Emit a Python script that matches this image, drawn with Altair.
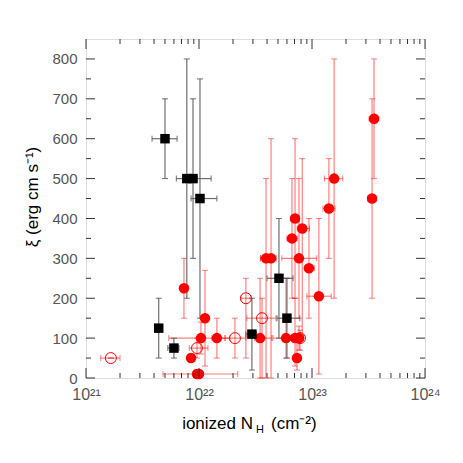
import altair as alt
import pandas as pd

# ---- data ----
# black squares
sq_x   = [5.0e21, 7.8e21, 8.85e21, 1.02e22, 4.4e21, 6.0e21, 2.94e22, 5.1e22, 6.0e22]
sq_xlo = [3.84e21, 6.3e21, 7.5e21, 8.5e21, 4.16e21, 5.3e21, 2.6e22, 4.0e22, 4.9e22]
sq_xhi = [6.4e21, 9.6e21, 1.28e22, 1.44e22, 4.7e21, 6.65e21, 3.2e22, 6.8e22, 7.8e22]
sq_y   = [600, 500, 500, 450, 125, 75, 110, 250, 150]
sq_ylo = [500, 200, 300, 150, 50, 50, 20, 100, 50]
sq_yhi = [700, 800, 700, 750, 200, 100, 200, 400, 250]

# red filled circles
fc_x   = [3.54e23, 3.4e23, 1.57e23, 1.41e23, 1.15e23, 9.4e22, 7.67e22, 7.08e22, 8.2e22, 6.65e22,
          3.92e22, 4.34e22, 1.13e22, 1.04e22, 1.44e22, 3.47e22, 5.89e22, 7.08e22, 7.67e22, 7.36e22,
          8.5e21, 9.6e21, 1.0e22, 7.36e21]
fc_xlo = [3.2e23, 3.1e23, 1.29e23, 1.25e23, 9.0e22, 8.6e22, 5.4e22, 6.5e22, 7.4e22, 6.0e22,
          3.5e22, 3.5e22, 1.05e22, 5.4e21, 1.3e22, 3.1e22, 4.5e22, 6.5e22, 7.0e22, 6.9e22,
          8.0e21, 9.0e21, 4.8e21, 6.8e21]
fc_xhi = [3.9e23, 3.7e23, 1.87e23, 1.6e23, 1.48e23, 1.05e23, 1.1e23, 7.7e22, 9.5e22, 7.4e22,
          4.8e22, 4.8e22, 1.2e22, 1.88e22, 1.7e22, 4.4e22, 6.5e22, 7.7e22, 8.4e22, 7.9e22,
          9.0e21, 1.02e22, 2.2e22, 8.0e21]
fc_y   = [650, 450, 500, 425, 205, 275, 300, 400, 375, 350,
          300, 300, 150, 100, 100, 100, 100, 100, 100, 50,
          50, 10, 10, 225]
fc_ylo = [500, 200, 200, 300, 10, 150, 150, 200, 100, 200,
          0, 0, 30, 60, 50, 0, 50, 30, 70, 20,
          40, 0, 0, 150]
fc_yhi = [800, 700, 800, 550, 400, 400, 500, 600, 550, 500,
          500, 600, 270, 140, 150, 250, 250, 200, 130, 100,
          60, 20, 20, 300]

# red open circles
oc_x   = [1.66e21, 9.6e21, 2.08e22, 2.6e22, 3.61e22, 7.83e22]
oc_xlo = [1.35e21, 8.2e21, 1.7e22, 2.35e22, 2.65e22, 7.3e22]
oc_xhi = [2.0e21, 1.2e22, 2.6e22, 2.9e22, 4.8e22, 8.4e22]
oc_y   = [50, 75, 100, 200, 150, 100]
oc_ylo = [50, 50, 50, 50, 0, 70]
oc_yhi = [50, 100, 150, 250, 200, 120]

x_major = [1e21, 1e22, 1e23, 1e24]
x_minor = [m * 10.0 ** d for d in (21, 22, 23) for m in range(2, 10)]
y_major = [0, 100, 200, 300, 400, 500, 600, 700, 800]
y_minor = [50, 150, 250, 350, 450, 550, 650, 750]

W, H = 339, 339
FONT = "Liberation Sans"

xs = alt.Scale(type="log", domain=[1e21, 1e24], nice=False)
ys = alt.Scale(domain=[0, 850], nice=False, zero=False)

xaxis = alt.Axis(values=x_major, labelExpr="'10' + (datum.value < 5e21 ? '²¹' : datum.value < 5e22 ? '²²' : datum.value < 5e23 ? '²³' : '²⁴')",
                 ticks=False, domain=False, grid=False, title="", labelFlush=False,
                 labelFontSize=16, labelColor="#555", labelFont=FONT, labelPadding=8)
yaxis = alt.Axis(values=y_major, ticks=False, domain=False, grid=False, title="",
                 labelFontSize=15, labelColor="#555", labelFont=FONT, labelPadding=9)


def X(f):
    return alt.X(f + ":Q", scale=xs, axis=xaxis)


def Y(f):
    return alt.Y(f + ":Q", scale=ys, axis=yaxis)


sq = pd.DataFrame(dict(x=sq_x, xlo=sq_xlo, xhi=sq_xhi, y=sq_y, ylo=sq_ylo, yhi=sq_yhi))
fc = pd.DataFrame(dict(x=fc_x, xlo=fc_xlo, xhi=fc_xhi, y=fc_y, ylo=fc_ylo, yhi=fc_yhi))
oc = pd.DataFrame(dict(x=oc_x, xlo=oc_xlo, xhi=oc_xhi, y=oc_y, ylo=oc_ylo, yhi=oc_yhi))


def errbars(df, color, width, opacity):
    b = alt.Chart(df)
    v = b.mark_rule(color=color, strokeWidth=width, opacity=opacity).encode(x=X("x"), y=Y("ylo"), y2="yhi:Q")
    h = b.mark_rule(color=color, strokeWidth=width, opacity=opacity).encode(x=X("xlo"), x2="xhi:Q", y=Y("y"))
    c1 = b.mark_tick(color=color, orient="horizontal", size=6, thickness=1, opacity=opacity).encode(x=X("x"), y=Y("ylo"))
    c2 = b.mark_tick(color=color, orient="horizontal", size=6, thickness=1, opacity=opacity).encode(x=X("x"), y=Y("yhi"))
    c3 = b.mark_tick(color=color, orient="vertical", size=6, thickness=1, opacity=opacity).encode(x=X("xlo"), y=Y("y"))
    c4 = b.mark_tick(color=color, orient="vertical", size=6, thickness=1, opacity=opacity).encode(x=X("xhi"), y=Y("y"))
    return [v, h, c1, c2, c3, c4]


layers = []
layers += errbars(fc, "#ff0000", 1.2, 0.5)
layers += errbars(oc, "#ff0000", 1.2, 0.5)
layers += errbars(sq, "#555555", 1.2, 0.85)

layers.append(alt.Chart(fc).mark_point(shape="circle", filled=True, color="#ff0000", opacity=1, size=110).encode(x=X("x"), y=Y("y")))
layers.append(alt.Chart(oc).mark_point(shape="circle", filled=False, color="#ff0000", opacity=1, size=120, strokeWidth=1).encode(x=X("x"), y=Y("y")))
layers.append(alt.Chart(sq).mark_point(shape="square", filled=True, color="#000000", opacity=1, size=90).encode(x=X("x"), y=Y("y")))


# axis ticks (inside the frame, on all four sides)
def xticks(vals, ln):
    d = pd.DataFrame({"v": vals})
    bot = alt.Chart(d).mark_rule(color="#333", strokeWidth=1).encode(x=X("v"), y=alt.value(H), y2=alt.value(H - ln))
    top = alt.Chart(d).mark_rule(color="#333", strokeWidth=1).encode(x=X("v"), y=alt.value(0), y2=alt.value(ln))
    return [bot, top]


def yticks(vals, ln):
    d = pd.DataFrame({"v": vals})
    lft = alt.Chart(d).mark_rule(color="#333", strokeWidth=1).encode(y=Y("v"), x=alt.value(0), x2=alt.value(ln))
    rgt = alt.Chart(d).mark_rule(color="#333", strokeWidth=1).encode(y=Y("v"), x=alt.value(W), x2=alt.value(W - ln))
    return [lft, rgt]


layers += xticks(x_major, 10) + xticks(x_minor, 5) + yticks(y_major, 9) + yticks(y_minor, 5)

# titles
one = pd.DataFrame({"t": ["ionized N"], "h": ["H"], "u": ["(cm⁻²)"], "yt": ["ξ (erg cm s⁻¹)"]})
layers.append(alt.Chart(one).mark_text(align="right", baseline="middle", fontSize=17, font=FONT, color="#000")
              .encode(text="t:N", x=alt.value(167), y=alt.value(385)))
layers.append(alt.Chart(one).mark_text(align="left", baseline="middle", fontSize=11, font=FONT, color="#000")
              .encode(text="h:N", x=alt.value(170), y=alt.value(391)))
layers.append(alt.Chart(one).mark_text(align="left", baseline="middle", fontSize=17, font=FONT, color="#000")
              .encode(text="u:N", x=alt.value(185), y=alt.value(385)))
layers.append(alt.Chart(one).mark_text(align="center", baseline="middle", fontSize=17, font=FONT, color="#000", angle=270)
              .encode(text="yt:N", x=alt.value(-53), y=alt.value(158)))

chart = alt.layer(*layers).properties(
    width=W, height=H,
    autosize=alt.AutoSizeParams(type="none"),
    padding={"left": 78, "top": 31, "right": 20, "bottom": 60},
).configure_view(stroke="#000", strokeWidth=1).configure(background="white")

chart.save("out.html", embed_options={"renderer": "svg", "actions": False})
